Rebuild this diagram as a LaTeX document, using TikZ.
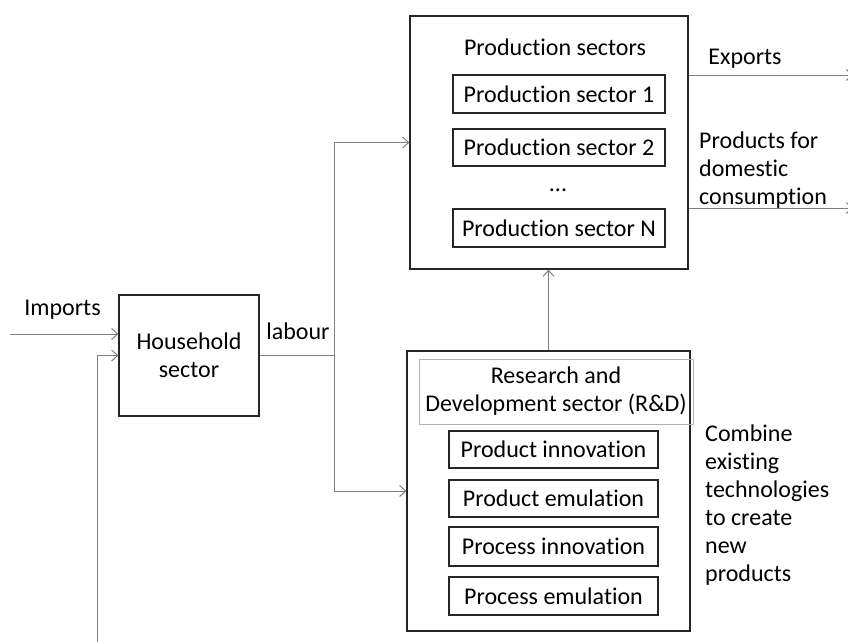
\documentclass[tikz,border=0pt]{standalone}
\usepackage{fontspec}
\setmainfont{Carlito}[Ligatures={NoCommon}]
\usetikzlibrary{arrows.meta}
\begin{document}
\begin{tikzpicture}[x=1pt,y=-1pt,
  font=\fontsize{24}{28}\selectfont,
  box/.style={draw=black!85,line width=1.3pt,inner sep=0pt,anchor=center},
  sub/.style={box,minimum width=209pt,minimum height=37pt},
  conn/.style={draw=black!50,line width=1pt,-{Straight Barb[length=6pt,width=11pt]}},
  plain/.style={draw=black!50,line width=1pt},
  lbl/.style={inner sep=0pt,align=left}]
\useasboundingbox (0,0) rectangle (848,642);
% production sectors
\node[box,minimum width=278pt,minimum height=253pt] (prod) at (549,142.5) {};
\node[lbl] (prodt) at (555,47) {Production sectors};
\node[sub,minimum width=212pt,minimum height=38pt] (ps1) at (559,94) {Production sector 1};
\node[sub,minimum width=212pt,minimum height=37pt] (ps2) at (559,147.5) {Production sector 2};
\node[lbl] (dots) at (558,190) {...};
\node[sub,minimum width=212pt,minimum height=38pt] (psN) at (559,228) {Production sector N};
% household
\node[box,minimum width=140pt,minimum height=121pt,align=center] (house) at (189,355.5) {Household\\sector};
\node[lbl] (imports) at (62.5,310) {Imports};
\node[lbl] (labour) at (298,331) {labour};
% R&D
\node[box,minimum width=283pt,minimum height=280pt] (rd) at (548.5,491) {};
\node[draw=black!30,line width=1pt,minimum width=274pt,minimum height=65pt,inner sep=0pt,align=center] (rdt) at (556,391.5) {Research and\\Development sector (R\&D)};
\node[sub] (pi) at (553.5,449.5) {Product innovation};
\node[sub] (pe) at (553.5,498.5) {Product emulation};
\node[sub,minimum height=39pt] (pin) at (553.5,546.5) {Process innovation};
\node[sub,minimum height=38pt] (pem) at (553.5,596) {Process emulation};
\node[lbl,anchor=north west] (comb) at (705,425) {Combine\\existing\\technologies\\to create\\new\\products};
% outputs
\node[lbl] (exports) at (745,59) {Exports};
\node[lbl,anchor=north west] (dom) at (699,132) {Products for\\domestic\\consumption};
% connectors
\coordinate (impS) at (10,334);
\draw[conn] (impS) -- (impS -| house.west);
\coordinate (fbS) at (97,645);
\draw[conn] (fbS) |- (house.west);
\draw[plain] (house.east) -- ++(75,0) coordinate (j);
\draw[conn] (j) |- (prod.west);
\draw[conn] (j) |- (rd.west);
\draw[conn] (rd.north) -- (rd.north |- prod.south);
\coordinate (exE) at (853,75);
\draw[conn] (exE -| prod.east) -- (exE);
\coordinate (domE) at (853,208);
\draw[conn] (domE -| prod.east) -- (domE);
\end{tikzpicture}
\end{document}
